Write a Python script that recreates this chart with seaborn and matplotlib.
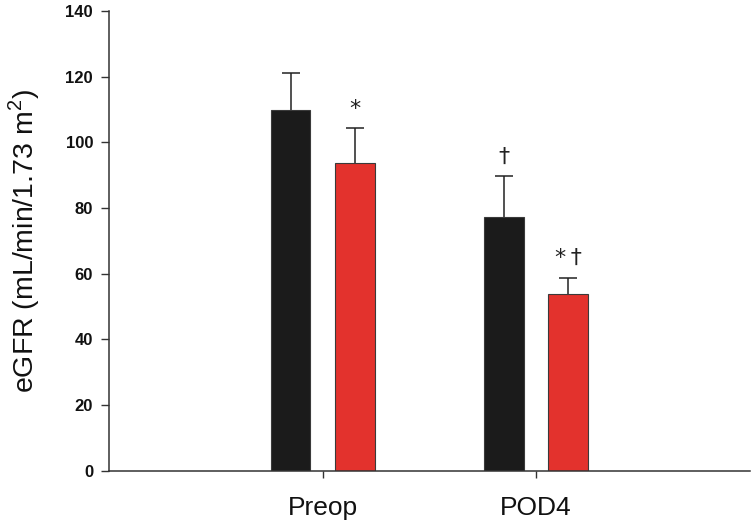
import numpy as np
import pandas as pd
import matplotlib
matplotlib.use("Agg")
import matplotlib.pyplot as plt
import seaborn as sns

# ---- data ----
timepoints = ["Preop", "POD4"]
groups = ["Control", "Treatment"]
means_control = [109.8, 77.2]
means_treatment = [93.6, 53.9]
sd_control = [11.2, 12.5]
sd_treatment = [10.7, 4.9]
marks_control = ["", "\u2020"]
marks_treatment = ["*", "*\u2009\u2020"]
yticks = [0, 20, 40, 60, 80, 100, 120, 140]

rows = []
for g, m, s, mk in [(groups[0], means_control, sd_control, marks_control),
                    (groups[1], means_treatment, sd_treatment, marks_treatment)]:
    for t, mv, sv, mm in zip(timepoints, m, s, mk):
        rows.append({"time": t, "group": g, "eGFR": mv, "sd": sv, "mark": mm})
df = pd.DataFrame(rows)

sns.set_theme(style="ticks")
plt.rcParams["font.family"] = ["Liberation Sans", "DejaVu Sans"]
plt.rcParams["mathtext.fontset"] = "custom"
plt.rcParams["mathtext.rm"] = "Liberation Sans"
plt.rcParams["text.color"] = "#111111"
plt.rcParams["axes.labelcolor"] = "#111111"
plt.rcParams["xtick.color"] = "#333333"
plt.rcParams["ytick.color"] = "#333333"
plt.rcParams["xtick.labelcolor"] = "#111111"
plt.rcParams["ytick.labelcolor"] = "#111111"

fig = plt.figure(figsize=(7.52, 5.26), dpi=100)
ax = fig.add_axes([0.145, 0.105, 0.852, 0.874])

palette = {"Control": "#1B1B1B", "Treatment": "#E3322D"}
sns.barplot(data=df, x="time", y="eGFR", hue="group", order=timepoints,
            hue_order=groups, palette=palette, width=0.6, gap=0.38,
            errorbar=None, edgecolor="#3a3a3a", linewidth=0.8,
            saturation=1, legend=False, ax=ax)

for container, g in zip(ax.containers, groups):
    sub = df[df["group"] == g].set_index("time")
    for bar in container:
        xc = bar.get_x() + bar.get_width() / 2
        t = timepoints[int(round(xc))]
        h = bar.get_height()
        err = sub.loc[t, "sd"]
        eb = ax.errorbar(xc, h, yerr=[[0], [err]], fmt="none", ecolor="#222222",
                         elinewidth=1.1, capsize=6.5, capthick=1.1, zorder=3)
        caps = eb.lines[1]
        if len(caps) > 1:
            caps[0].set_visible(False)
        mk = sub.loc[t, "mark"]
        if mk:
            ax.annotate(mk, xy=(xc, h + err), xytext=(0, 14),
                        textcoords="offset points", ha="center", va="center",
                        fontsize=16, color="#222222",
                        family=["DejaVu Sans"])

ax.set_xlim(-1.0, 2.0)
ax.set_ylim(0, 140)
ax.set_yticks(yticks)
ax.set_yticklabels([str(v) for v in yticks], fontweight="bold", fontsize=12)
ax.set_xlabel("")
ax.set_ylabel(r"eGFR (mL/min/1.73 m$^\mathregular{2}$)", fontsize=20.5, labelpad=17)
ax.tick_params(axis="x", labelsize=19, length=5, width=1, pad=13)
ax.tick_params(axis="y", length=5.5, width=1, pad=6)
for sp in ["top", "right"]:
    ax.spines[sp].set_visible(False)
for sp in ["left", "bottom"]:
    ax.spines[sp].set_color("#333333")
    ax.spines[sp].set_linewidth(1.1)

fig.savefig("out.png", dpi=100)
